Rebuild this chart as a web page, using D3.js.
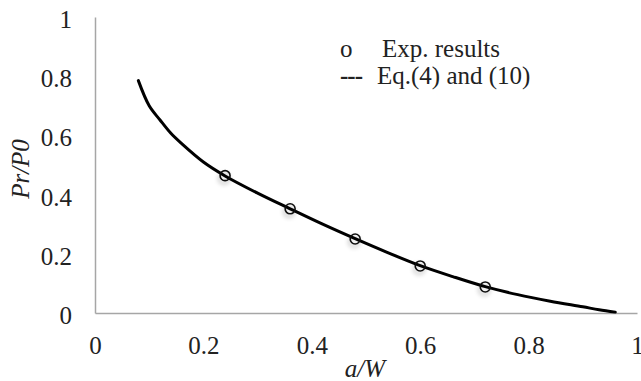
<!DOCTYPE html>
<html>
<head>
<meta charset="utf-8">
<script src="https://cdn.jsdelivr.net/npm/d3@7"></script>
<style>
  body { margin: 0; background: #fff; }
  svg text { font-family: 'Liberation Serif', serif !important; }
</style>
</head>
<body>
<svg id="chart" width="641" height="381"></svg>
<script>
// experimental points
const expA = [0.24, 0.36, 0.48, 0.60, 0.72];
const expP = [0.464, 0.352, 0.25, 0.159, 0.088];

// Eq.(4) and (10) curve
const curveA = [0.08, 0.10, 0.12, 0.14, 0.16, 0.20, 0.24, 0.30, 0.36, 0.42, 0.48, 0.54, 0.60, 0.66, 0.72, 0.78, 0.84, 0.90, 0.93, 0.96];
const curveP = [0.785, 0.70, 0.652, 0.607, 0.572, 0.51, 0.463, 0.405, 0.352, 0.30, 0.251, 0.204, 0.16, 0.123, 0.089, 0.062, 0.04, 0.021, 0.011, 0.003];

const xTicks = [0, 0.2, 0.4, 0.6, 0.8, 1];
const yTicks = [0, 0.2, 0.4, 0.6, 0.8, 1];

const margin = {top: 17, left: 95},
  width = 542,
  height = 296,
  fs = 25;

const svg = d3.select("#chart");

// soft shadow under the markers
const defs = svg.append("defs");
const f = defs.append("filter").attr("id", "shadow")
  .attr("x", "-100%").attr("y", "-100%").attr("width", "300%").attr("height", "300%");
f.append("feDropShadow").attr("dx", -1).attr("dy", 3).attr("stdDeviation", 2)
  .attr("flood-color", "#000").attr("flood-opacity", 0.35);

const g = svg.append("g").attr("transform", `translate(${margin.left},${margin.top})`);

const x = d3.scaleLinear().domain([0, 1]).range([0, width]);
const y = d3.scaleLinear().domain([0, 1]).range([height, 0]);

// axes
const xAxis = g.append("g")
  .attr("transform", `translate(0,${height})`)
  .call(d3.axisBottom(x).tickValues(xTicks).tickFormat(d3.format("")).tickSize(0).tickPadding(23));
const yAxis = g.append("g")
  .call(d3.axisLeft(y).tickValues(yTicks).tickFormat(d3.format("")).tickSize(0).tickPadding(23));

[xAxis, yAxis].forEach(a => {
  a.attr("font-size", fs);
  a.select(".domain").attr("stroke", "#a6a6a6").attr("stroke-width", 1.5);
  a.selectAll("text").attr("fill", "#222");
});
yAxis.selectAll("text").attr("dy", "0.42em");

// curve
const line = d3.line()
  .x((d, i) => x(curveA[i]))
  .y(d => y(d))
  .curve(d3.curveCatmullRom);

g.append("path")
  .datum(curveP)
  .attr("d", line)
  .attr("fill", "none")
  .attr("stroke", "#000")
  .attr("stroke-width", 3)
  .attr("stroke-linecap", "round");

// experimental markers
g.selectAll("circle.exp")
  .data(expP)
  .join("circle")
  .attr("class", "exp")
  .attr("cx", (d, i) => x(expA[i]))
  .attr("cy", d => y(d))
  .attr("r", 5)
  .attr("fill", "none")
  .attr("stroke", "#111")
  .attr("stroke-width", 1.6)
  .attr("filter", "url(#shadow)");

// axis titles
svg.append("text")
  .attr("x", 365).attr("y", 377)
  .attr("text-anchor", "middle")
  .attr("font-size", fs).attr("font-style", "italic").attr("fill", "#222")
  .text("a/W");

svg.append("text")
  .attr("transform", "translate(29,169) rotate(-90)")
  .attr("text-anchor", "middle")
  .attr("font-size", fs).attr("font-style", "italic").attr("fill", "#222")
  .text("Pr/P0");

// legend
const legend = svg.append("g").attr("font-size", fs).attr("fill", "#222");
legend.append("text").attr("x", 340).attr("y", 57).text("o");
legend.append("text").attr("x", 382).attr("y", 57).text("Exp. results");
legend.append("text").attr("x", 340).attr("y", 84).attr("font-weight", "bold").attr("letter-spacing", -1).text("---");
legend.append("text").attr("x", 377).attr("y", 84).text("Eq.(4) and (10)");
</script>
</body>
</html>
